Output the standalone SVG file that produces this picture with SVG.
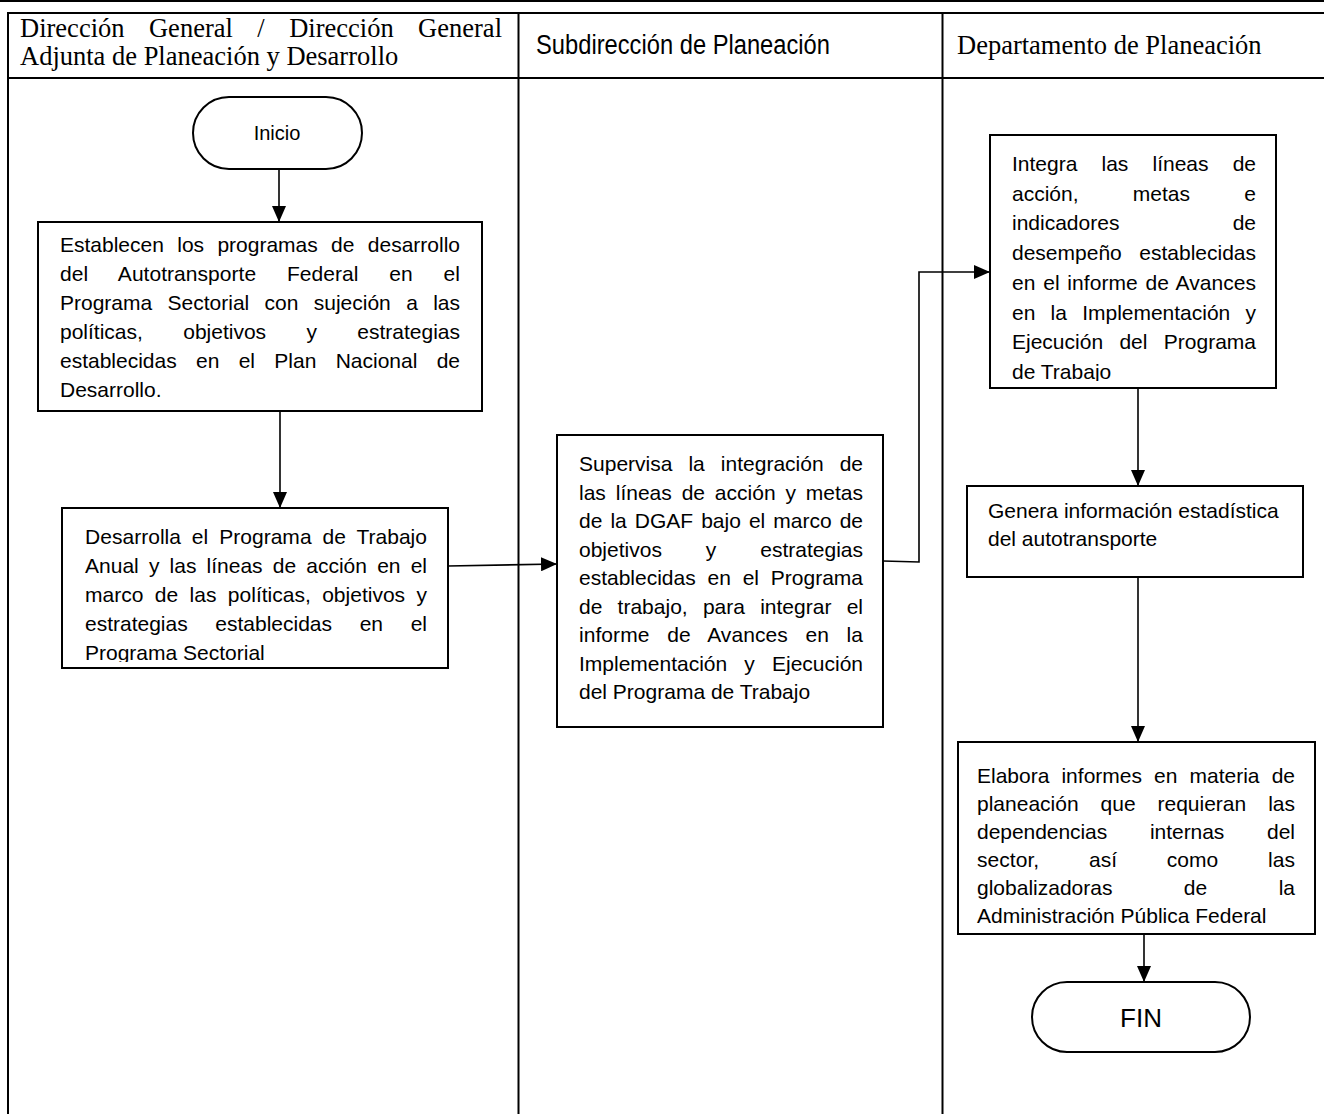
<svg xmlns="http://www.w3.org/2000/svg" width="1324" height="1114" viewBox="0 0 1324 1114">
<style>
.t{font-family:"Liberation Sans",Arial,sans-serif;font-size:21px;fill:#000}
.h{font-family:"Liberation Serif","Times New Roman",serif;font-size:26.5px;fill:#000}
.hs{font-family:"Liberation Sans Narrow","Liberation Sans",Arial,sans-serif;font-size:27px;fill:#000}
.box{fill:#fff;stroke:#000;stroke-width:2}
.grid{stroke:#000;stroke-width:2;fill:none}
.con{stroke:#000;stroke-width:1.6;fill:none}
</style>
<defs>
<marker id="ah" markerUnits="userSpaceOnUse" markerWidth="16" markerHeight="14" refX="16" refY="7" orient="auto">
<path d="M0,0 L16,7 L0,14 Z" fill="#000"/>
</marker>
<clipPath id="c2"><rect x="62" y="508" width="386" height="154"/></clipPath>
<clipPath id="c4"><rect x="990" y="135" width="286" height="246"/></clipPath>
</defs>
<rect width="1324" height="1114" fill="#fff"/>
<g id="table">
<line class="grid" x1="0" y1="1" x2="1324" y2="1" stroke-width="1.5"/>
<line class="grid" x1="7" y1="13" x2="1324" y2="13"/>
<line class="grid" x1="7" y1="78" x2="1324" y2="78"/>
<line class="grid" x1="8" y1="12" x2="8" y2="1114"/>
<line class="grid" x1="518.5" y1="12" x2="518.5" y2="1114"/>
<line class="grid" x1="942.5" y1="12" x2="942.5" y2="1114"/>
<text class="h" x="20" y="37" word-spacing="17.8" textLength="482" lengthAdjust="spacing">Dirección General / Dirección General</text>
<text class="h" x="20" y="65">Adjunta de Planeación y Desarrollo</text>
<text class="hs" x="536" y="54" textLength="294" lengthAdjust="spacingAndGlyphs">Subdirección de Planeación</text>
<text class="h" x="957" y="54">Departamento de Planeación</text>
</g>
<g id="connectors">
<line class="con" x1="279" y1="169" x2="279" y2="222" marker-end="url(#ah)"/>
<line class="con" x1="280" y1="411" x2="280" y2="508" marker-end="url(#ah)"/>
<line class="con" x1="448" y1="566" x2="557" y2="564" marker-end="url(#ah)"/>
<polyline class="con" points="883,561 919,562 919,272 990,272" marker-end="url(#ah)"/>
<line class="con" x1="1138" y1="388" x2="1138" y2="486" marker-end="url(#ah)"/>
<line class="con" x1="1138" y1="577" x2="1138" y2="742" marker-end="url(#ah)"/>
<line class="con" x1="1144" y1="934" x2="1144" y2="982" marker-end="url(#ah)"/>
</g>
<g id="inicio">
<rect class="box" x="193" y="97" width="169" height="72" rx="36" ry="36"/>
<text class="t" x="277" y="140" text-anchor="middle" style="font-size:20px">Inicio</text>
</g>
<g id="box1">
<rect class="box" x="38" y="222" width="444" height="189"/>
<text class="t" x="60" y="252" word-spacing="7.5" textLength="400" lengthAdjust="spacing">Establecen los programas de desarrollo</text>
<text class="t" x="60" y="281" word-spacing="25" textLength="400" lengthAdjust="spacing">del Autotransporte Federal en el</text>
<text class="t" x="60" y="310" word-spacing="9.5" textLength="400" lengthAdjust="spacing">Programa Sectorial con sujeción a las</text>
<text class="t" x="60" y="339" word-spacing="34.5" textLength="400" lengthAdjust="spacing">políticas, objetivos y estrategias</text>
<text class="t" x="60" y="368" word-spacing="13.5" textLength="400" lengthAdjust="spacing">establecidas en el Plan Nacional de</text>
<text class="t" x="60" y="397">Desarrollo.</text>
</g>
<g id="box2">
<rect class="box" x="62" y="508" width="386" height="160"/>
<g clip-path="url(#c2)">
<text class="t" x="85" y="544" word-spacing="5" textLength="342" lengthAdjust="spacing">Desarrolla el Programa de Trabajo</text>
<text class="t" x="85" y="573" word-spacing="4.3" textLength="342" lengthAdjust="spacing">Anual y las líneas de acción en el</text>
<text class="t" x="85" y="602" word-spacing="5.6" textLength="342" lengthAdjust="spacing">marco de las políticas, objetivos y</text>
<text class="t" x="85" y="631" word-spacing="21.8" textLength="342" lengthAdjust="spacing">estrategias establecidas en el</text>
<text class="t" x="85" y="660">Programa Sectorial</text>
</g>
</g>
<g id="box3">
<rect class="box" x="557" y="435" width="326" height="292"/>
<text class="t" x="579" y="471" word-spacing="10.2" textLength="284" lengthAdjust="spacing">Supervisa la integración de</text>
<text class="t" x="579" y="499.5" word-spacing="4" textLength="284" lengthAdjust="spacing">las líneas de acción y metas</text>
<text class="t" x="579" y="528" word-spacing="2.2" textLength="284" lengthAdjust="spacing">de la DGAF bajo el marco de</text>
<text class="t" x="579" y="556.5" word-spacing="38.1" textLength="284" lengthAdjust="spacing">objetivos y estrategias</text>
<text class="t" x="579" y="585" word-spacing="6" textLength="284" lengthAdjust="spacing">establecidas en el Programa</text>
<text class="t" x="579" y="613.5" word-spacing="9.4" textLength="284" lengthAdjust="spacing">de trabajo, para integrar el</text>
<text class="t" x="579" y="642" word-spacing="11.8" textLength="284" lengthAdjust="spacing">informe de Avances en la</text>
<text class="t" x="579" y="670.5" word-spacing="11.3" textLength="284" lengthAdjust="spacing">Implementación y Ejecución</text>
<text class="t" x="579" y="699">del Programa de Trabajo</text>
</g>
<g id="box4">
<rect class="box" x="990" y="135" width="286" height="253"/>
<g clip-path="url(#c4)">
<text class="t" x="1012" y="171" word-spacing="18.3" textLength="244" lengthAdjust="spacing">Integra las líneas de</text>
<text class="t" x="1012" y="200.7" word-spacing="48.5" textLength="244" lengthAdjust="spacing">acción, metas e</text>
<text class="t" x="1012" y="230.4" word-spacing="107.4" textLength="244" lengthAdjust="spacing">indicadores de</text>
<text class="t" x="1012" y="260.1" word-spacing="11.7" textLength="244" lengthAdjust="spacing">desempeño establecidas</text>
<text class="t" x="1012" y="289.8" word-spacing="1.8" textLength="244" lengthAdjust="spacing">en el informe de Avances</text>
<text class="t" x="1012" y="319.5" word-spacing="9.4" textLength="244" lengthAdjust="spacing">en la Implementación y</text>
<text class="t" x="1012" y="349.2" word-spacing="10.5" textLength="244" lengthAdjust="spacing">Ejecución del Programa</text>
<text class="t" x="1012" y="378.9">de Trabajo</text>
</g>
</g>
<g id="box5">
<rect class="box" x="967" y="486" width="336" height="91"/>
<text class="t" x="988" y="518">Genera información estadística</text>
<text class="t" x="988" y="546">del autotransporte</text>
</g>
<g id="box6">
<rect class="box" x="958" y="742" width="357" height="192"/>
<text class="t" x="977" y="783" word-spacing="6.3" textLength="318" lengthAdjust="spacing">Elabora informes en materia de</text>
<text class="t" x="977" y="811" word-spacing="16.1" textLength="318" lengthAdjust="spacing">planeación que requieran las</text>
<text class="t" x="977" y="839" word-spacing="37" textLength="318" lengthAdjust="spacing">dependencias internas del</text>
<text class="t" x="977" y="867" word-spacing="43.8" textLength="318" lengthAdjust="spacing">sector, así como las</text>
<text class="t" x="977" y="895" word-spacing="65.6" textLength="318" lengthAdjust="spacing">globalizadoras de la</text>
<text class="t" x="977" y="923">Administración Pública Federal</text>
</g>
<g id="fin">
<rect class="box" x="1032" y="982" width="218" height="70" rx="35" ry="35"/>
<text class="t" x="1141" y="1027" text-anchor="middle" style="font-size:26px">FIN</text>
</g>
</svg>
